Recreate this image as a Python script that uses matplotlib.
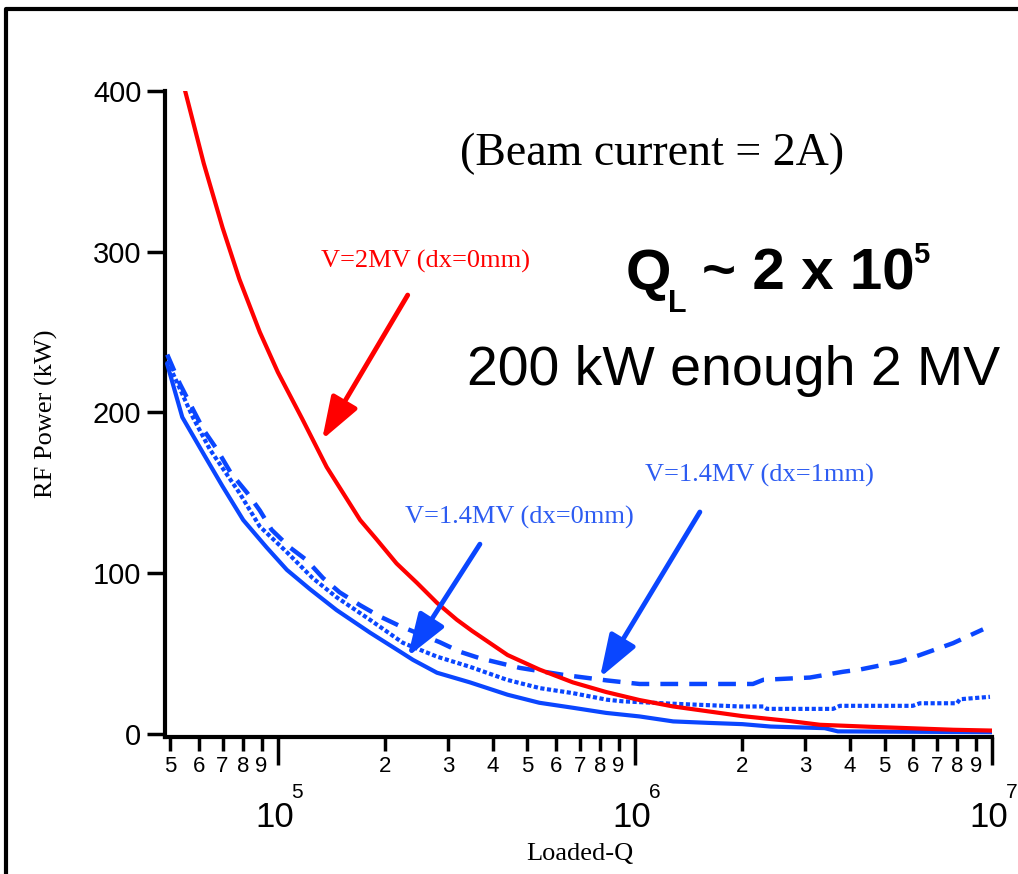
"""RF power vs loaded-Q for the cavity, beam current 2 A."""

import matplotlib

matplotlib.use("Agg")
import matplotlib.pyplot as plt
from matplotlib import font_manager
from matplotlib.lines import Line2D
from matplotlib.ticker import FixedLocator, FuncFormatter, NullFormatter

# V=2MV (dx=0mm)
red_q = [5.5e4, 6.2e4, 7.0e4, 7.8e4, 8.9e4, 1.0e5, 1.17e5, 1.37e5, 1.7e5, 1.89e5,
         2.15e5, 2.45e5, 2.79e5, 3.17e5, 3.5e5, 4.4e5, 5.4e5, 6.7e5, 8.3e5, 1.03e6,
         1.28e6, 1.6e6, 2.0e6, 2.7e6, 3.3e6, 4.5e6, 7.8e6, 1.0e7]
red_p = [400, 355, 315, 283, 250, 225, 196, 166, 133, 121,
         106, 94, 81.5, 71, 64, 49, 40, 32, 26, 21,
         17, 14, 11, 8, 5.6, 4.4, 2.5, 2]

# V=1.4MV (dx=0mm), solid
solid_q = [4.9e4, 5.4e4, 6.2e4, 7.0e4, 8.0e4, 9.3e4, 1.06e5, 1.23e5, 1.46e5,
           1.81e5, 2.24e5, 2.39e5, 2.79e5, 3.45e5, 4.4e5, 5.4e5, 6.7e5, 8.3e5, 1.03e6,
           1.28e6, 1.6e6, 2.0e6, 2.4e6, 3.4e6, 3.7e6, 1.0e7]
solid_p = [230, 197, 174, 154, 133, 116, 102, 90, 77,
           63, 50, 46, 38, 32, 24.3, 19.3, 16.2, 13, 10.8,
           7.7, 6.8, 6.0, 4.5, 3.5, 1.5, 1.0]

# dotted curve
dot_q = [4.9e4, 5.78e4, 6.45e4, 7.8e4, 8.9e4, 1.06e5, 1.25e5, 1.46e5, 1.81e5,
         2.24e5, 2.79e5, 3.45e5, 4.38e5, 5.42e5, 6.7e5, 8.35e5, 9.25e5, 1.28e6, 1.97e6,
         2.29e6, 2.34e6, 3.59e6, 3.75e6, 6.0e6, 6.28e6, 7.98e6, 8.13e6, 9.87e6]
dot_p = [232, 197, 177, 150, 129, 113, 97, 85, 71,
         56.6, 48, 41.7, 33.6, 28.4, 25.3, 21.2, 20.2, 18.7, 17,
         17, 15.5, 15.5, 17.4, 17.4, 19, 19, 21.5, 23]

# V=1.4MV (dx=1mm), dashed
dash_q = [4.9e4, 5.31e4, 5.78e4, 6.2e4, 6.75e4, 7.4e4, 8.2e4, 8.9e4, 9.6e4, 1.08e5,
          1.205e5, 1.337e5, 1.49e5, 1.7e5, 1.93e5, 2.2e5, 2.84e5, 3.24e5, 3.68e5, 4.76e5,
          6.29e5, 8.35e5, 1.03e6, 2.14e6, 2.29e6, 3.09e6, 3.83e6, 4.27e6, 5.52e6, 6.28e6,
          7.78e6, 9.44e6]
dash_p = [236, 218, 202, 189, 177, 162, 150, 139, 127, 116,
          108, 97, 88, 80, 73, 67, 57, 51, 47, 41,
          36.7, 33.2, 31, 31, 33.6, 35, 38.6, 40, 45, 49,
          56.4, 65]

y_ticks = [0, 100, 200, 300, 400]
major_q = [1e5, 1e6, 1e7]
major_exp = ["5", "6", "7"]
minor_q = [m * d for d in (1e4, 1e5, 1e6) for m in range(2, 10) if m * d > 4.9e4]

W, H = 1018, 874
RED = "#ff0000"
BLUE = "#0a46ff"
BLUE_TXT = "#2d5cf2"

installed = {f.name for f in font_manager.fontManager.ttflist}
NARROW = "Liberation Sans Narrow" if "Liberation Sans Narrow" in installed else "Liberation Sans"
SERIF = "Liberation Serif"
SANS = "Liberation Sans"


def fx(px):
    return px / W


def fy(py):
    return 1 - py / H


fig = plt.figure(figsize=(W / 100, H / 100), dpi=100)
ax = fig.add_axes([fx(165), fy(737), fx(992) - fx(165), fy(91) - fy(737)])

ax.plot(solid_q, solid_p, color=BLUE, lw=3, zorder=3)
ax.plot(dot_q, dot_p, color=BLUE, lw=3, ls=(0, (1, 0.6)), zorder=3)
ax.plot(dash_q, dash_p, color=BLUE, lw=3.2, ls=(0, (4, 2.5)), zorder=3)
ax.plot(red_q, red_p, color=RED, lw=3, zorder=4)

ax.set_xscale("log")
ax.set_xlim(4.83e4, 1e7)
ax.set_ylim(-2, 400)

for side in ("top", "right"):
    ax.spines[side].set_visible(False)
for side in ("left", "bottom"):
    ax.spines[side].set_linewidth(3)

ax.set_yticks(y_ticks)
ax.tick_params(axis="y", direction="out", length=13, width=2.5, labelsize=21, pad=4)
for lab in ax.get_yticklabels():
    lab.set_family(NARROW)

ax.xaxis.set_major_locator(FixedLocator(major_q))
ax.xaxis.set_major_formatter(NullFormatter())
ax.xaxis.set_minor_locator(FixedLocator(minor_q))
ax.xaxis.set_minor_formatter(FuncFormatter(lambda v, _: str(int(round(v / 10 ** int(f"{v:e}".split("e")[1]))))))
ax.tick_params(axis="x", which="major", direction="out", length=20, width=2.5)
ax.tick_params(axis="x", which="minor", direction="out", length=10, width=2.5, labelsize=16, pad=4)
for lab in ax.xaxis.get_minorticklabels():
    lab.set_family(NARROW)

# decade labels: big "10" with a detached exponent above-right
for q, e in zip(major_q, major_exp):
    ax.annotate("10", xy=(q, 0), xycoords=("data", "axes fraction"), xytext=(-2, -58),
                textcoords="offset points", ha="center", va="center", fontsize=25, family=NARROW)
    ax.annotate(e, xy=(q, 0), xycoords=("data", "axes fraction"), xytext=(14, -40),
                textcoords="offset points", ha="center", va="center", fontsize=15, family=NARROW)

fig.text(fx(580), fy(860), "Loaded-Q", ha="center", va="baseline", fontsize=19, family=SERIF)
fig.text(fx(46), fy(414), "RF Power (kW)", ha="center", va="center", rotation=90,
         fontsize=19, family=SERIF)

# arrows
arrow = "-|>,head_length=1.3,head_width=0.45"
for head, tail, col in [((1.33e5, 183), (2.31e5, 273), RED),
                        ((2.31e5, 48), (3.68e5, 118), BLUE),
                        ((7.98e5, 35), (1.52e6, 138), BLUE)]:
    ax.annotate("", xy=head, xytext=tail,
                arrowprops=dict(arrowstyle=arrow, color=col, lw=3.5, mutation_scale=20,
                                shrinkA=0, shrinkB=0), zorder=5)

fig.text(fx(460), fy(165), "(Beam current = 2A)", ha="left", va="baseline",
         fontsize=33, family=SERIF)
fig.text(fx(321), fy(268), "V=2MV (dx=0mm)", ha="left", va="baseline",
         fontsize=19, family=SERIF, color=RED)
fig.text(fx(645), fy(482), "V=1.4MV (dx=1mm)", ha="left", va="baseline",
         fontsize=19, family=SERIF, color=BLUE_TXT)
fig.text(fx(405), fy(524), "V=1.4MV (dx=0mm)", ha="left", va="baseline",
         fontsize=19, family=SERIF, color=BLUE_TXT)

# Q_L ~ 2 x 10^5
fig.text(fx(626), fy(290), "Q", ha="left", va="baseline", fontsize=42, family=SANS, weight="bold")
fig.text(fx(668), fy(312), "L", ha="left", va="baseline", fontsize=22, family=SANS, weight="bold")
fig.text(fx(702), fy(290), "~ 2 x 10", ha="left", va="baseline", fontsize=42, family=SANS, weight="bold")
fig.text(fx(913), fy(263), "5", ha="left", va="baseline", fontsize=21, family=SANS, weight="bold")
fig.text(fx(467), fy(385), "200 kW enough 2 MV", ha="left", va="baseline", fontsize=40, family=SANS)

# slide frame
fig.add_artist(Line2D([fx(6), fx(6), 1.0], [0, fy(9), fy(9)], transform=fig.transFigure,
                      color="black", lw=3))

fig.savefig("out.png", dpi=100)
